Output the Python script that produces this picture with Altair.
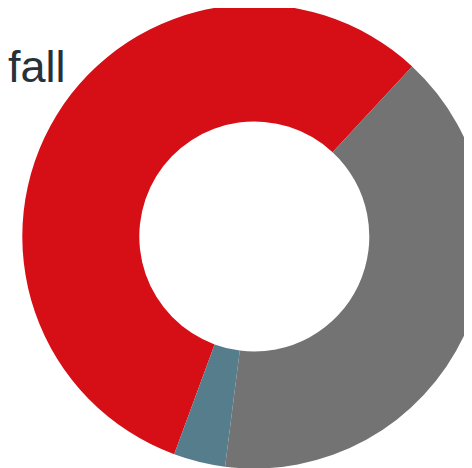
import altair as alt
import pandas as pd
import math

categories = ["A", "B", "C"]
values = [56.3, 40.1, 3.6]
colors = ["#D60E15", "#737373", "#567D8C"]
title_text = ["fall"]

df = pd.DataFrame({"cat": categories, "value": values, "idx": list(range(len(categories)))})

start = math.radians(200.2)

arc = alt.Chart(df).mark_arc(radius=232, radius2=115).encode(
    theta=alt.Theta("value:Q", stack=True, scale=alt.Scale(range=[start, start + 2 * math.pi])),
    color=alt.Color("cat:N", scale=alt.Scale(domain=categories, range=colors), legend=None),
    order=alt.Order("idx:Q"),
    x=alt.value(246.3),
    y=alt.value(228.5),
)

text = alt.Chart(pd.DataFrame({"label": title_text})).mark_text(
    align="left", baseline="alphabetic", font="Liberation Sans", fontSize=45, color="#263238"
).encode(
    text="label:N",
    x=alt.value(0),
    y=alt.value(74.3),
)

chart = alt.layer(arc, text).properties(
    width=456, height=460, autosize=alt.AutoSizeParams(type="none"), padding=0
).configure_view(stroke=None)

chart.save("out.html", embed_options={"renderer": "svg", "actions": False})
